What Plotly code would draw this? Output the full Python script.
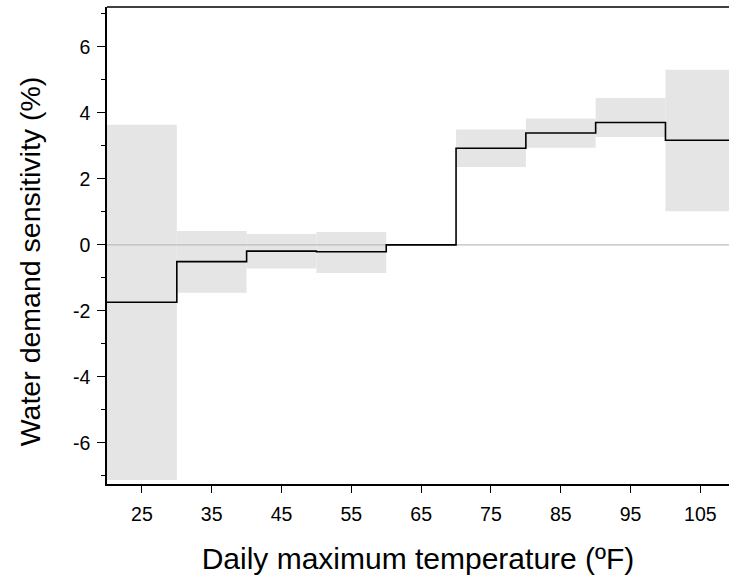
import plotly.graph_objects as go

bin_edges = [20, 30, 40, 50, 60, 70, 80, 90, 100, 110]
sensitivity = [-1.74, -0.51, -0.19, -0.21, 0.0, 2.93, 3.39, 3.71, 3.17]
ci_upper = [3.64, 0.42, 0.33, 0.39, None, 3.50, 3.83, 4.45, 5.31]
ci_lower = [-7.13, -1.45, -0.72, -0.85, None, 2.36, 2.94, 3.27, 1.02]
x_ticks = [25, 35, 45, 55, 65, 75, 85, 95, 105]
y_ticks = [-6, -4, -2, 0, 2, 4, 6]

fig = go.Figure()

# confidence bands
for i in range(len(sensitivity)):
    if ci_upper[i] is None:
        continue
    x0, x1 = bin_edges[i], bin_edges[i + 1]
    fig.add_trace(go.Scatter(
        x=[x0, x1, x1, x0, x0],
        y=[ci_lower[i], ci_lower[i], ci_upper[i], ci_upper[i], ci_lower[i]],
        fill="toself", fillcolor="#e5e5e5", line=dict(width=0),
        mode="lines", hoverinfo="skip", showlegend=False))

# zero reference line
fig.add_trace(go.Scatter(x=[bin_edges[0], bin_edges[-1]], y=[0, 0], mode="lines",
                         line=dict(color="#bdbdbd", width=1.2), showlegend=False, hoverinfo="skip"))

# step line
fig.add_trace(go.Scatter(x=bin_edges, y=sensitivity + [sensitivity[-1]], mode="lines",
                         line=dict(color="black", width=1.6, shape="hv"), showlegend=False))

font_family = "Liberation Sans, Arial, sans-serif"
fig.update_layout(
    width=729, height=581,
    margin=dict(l=106.5, r=0, t=6.7, b=97),
    plot_bgcolor="white", paper_bgcolor="white",
    font=dict(family=font_family, color="black"),
    xaxis=dict(range=[20, 109.1], tickvals=x_ticks, ticktext=[str(v) for v in x_ticks],
               showgrid=False, zeroline=False, showline=True, linecolor="black", linewidth=1.6,
               ticks="outside", ticklen=7, tickwidth=1.3, tickcolor="black",
               tickfont=dict(size=19.5), ticklabelstandoff=5,
               title=dict(text="Daily maximum temperature (ºF)", font=dict(size=30), standoff=24)),
    yaxis=dict(range=[-7.25, 7.21], tickvals=y_ticks, ticktext=[str(v) for v in y_ticks],
               showgrid=False, zeroline=False, showline=True, linecolor="black", linewidth=1.6,
               ticks="outside", ticklen=8, tickwidth=1.3, tickcolor="black",
               tickfont=dict(size=19.5), ticklabelstandoff=3,
               minor=dict(dtick=1, tick0=0, ticks="outside", ticklen=4, tickwidth=1.3, tickcolor="black")),
    shapes=[dict(type="line", xref="paper", yref="paper", x0=0, x1=1, y0=1, y1=1,
                 line=dict(color="black", width=1.6))],
    annotations=[dict(text="Water demand sensitivity (%)", textangle=-90, showarrow=False,
                      xref="paper", yref="paper", x=0, y=0.467, xanchor="center", yanchor="middle",
                      xshift=-77, font=dict(size=28.5))],
)

fig.write_html("out.html")
